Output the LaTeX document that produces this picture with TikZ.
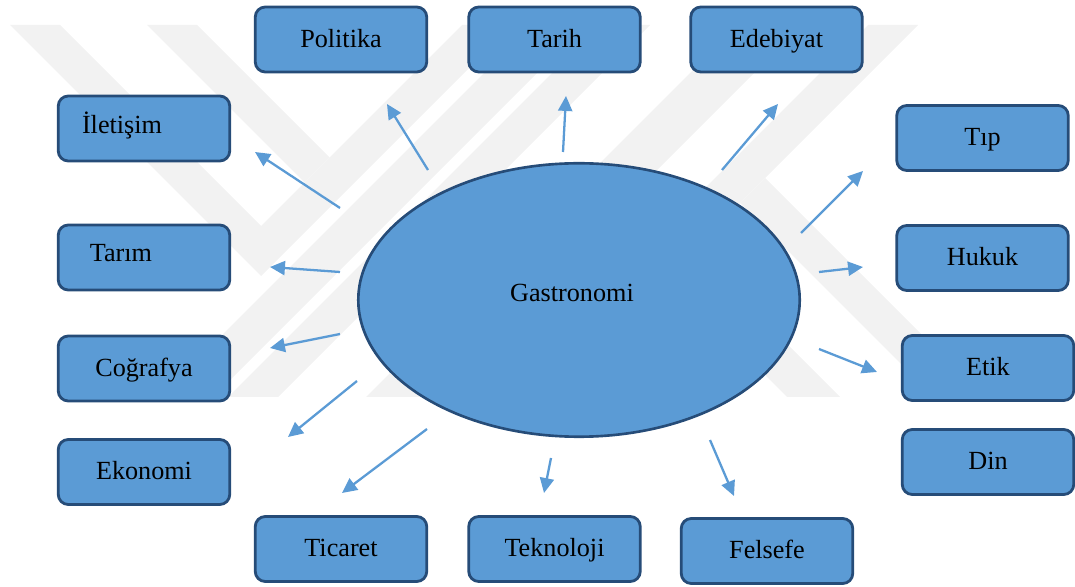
\documentclass[tikz,border=0pt]{standalone}
\usepackage{fontspec}
\setmainfont{Liberation Serif}
\usetikzlibrary{shapes.geometric,arrows.meta}
\definecolor{boxfill}{RGB}{91,155,213}
\definecolor{boxline}{RGB}{38,76,120}
\definecolor{arrowc}{RGB}{91,155,213}
\definecolor{wm}{RGB}{242,242,242}
\begin{document}
\begin{tikzpicture}[x=0.02cm,y=-0.02cm,
  txt/.style={font=\fontsize{14.9}{17}\selectfont,text height=12pt,text depth=3pt},
  box/.style={txt,draw=boxline,fill=boxfill,line width=1.6pt,rounded corners=0.2cm,
    minimum width=3.43cm,minimum height=1.30cm,inner sep=0pt},
  lbl/.style={txt,inner sep=0pt},
  oval/.style={ellipse,draw=boxline,fill=boxfill,line width=1.5pt,
    minimum width=8.83cm,minimum height=5.47cm,inner sep=0pt},
  arr/.style={draw=arrowc,line width=1.3pt,-{Triangle[length=8.5pt,width=8pt]}},
  wmark/.style={fill=wm,draw=none}]
\useasboundingbox (0,0) rectangle (1075,587);
% faint watermark
\fill[wmark] (10,25) -- (60,25) -- (261,226) -- (462,25) -- (512,25) -- (261,276) -- cycle;
\fill[wmark] (147,25) -- (197,25) -- (329.5,157.5) -- (304.5,182.5) -- cycle;
\fill[wmark] (532,25) -- (585,25) -- (213,397) -- (160,397) -- cycle;
\fill[wmark] (600,25) -- (650,25) -- (278,397) -- (228,397) -- cycle;
\fill[wmark] (738,25) -- (802,25) -- (430,397) -- (366,397) -- cycle;
\fill[wmark] (635,192) -- (840,397) -- (787,397) -- (608.5,218.5) -- cycle;
\fill[wmark] (868,25) -- (918,25) -- (546,397) -- (496,397) -- cycle;
\fill[wmark] (765,178) -- (984,397) -- (934,397) -- (740,203) -- cycle;
% central ellipse
\node[oval] (gastro) at (579,300) {};
\node[lbl] (gastroT) at (572,294) {Gastronomi};
% boxes
\node[box] (iletisim) at (144,128.5) {};
\node[lbl] (iletisimT) at (122,126) {İletişim};
\node[box] (tarim) at (144,257.5) {};
\node[lbl] (tarimT) at (121,253.5) {Tarım};
\node[box] (cografya) at (144,368.5) {Coğrafya};
\node[box] (ekonomi) at (144,472) {Ekonomi};
\node[box] (politika) at (341,39.5) {Politika};
\node[box] (tarih) at (554.5,39.5) {Tarih};
\node[box] (edebiyat) at (776.5,39.5) {Edebiyat};
\node[box] (tip) at (982.5,138) {Tıp};
\node[box] (hukuk) at (982.5,258) {Hukuk};
\node[box] (etik) at (988,368) {Etik};
\node[box] (din) at (988,462) {Din};
\node[box] (ticaret) at (341,549) {Ticaret};
\node[box] (teknoloji) at (554.5,549) {Teknoloji};
\node[box] (felsefe) at (767,551) {Felsefe};
% arrow end points
\coordinate (a1s) at (340,208); \coordinate (a1e) at (255,152);
\coordinate (a2s) at (340,272); \coordinate (a2e) at (270,267);
\coordinate (a3s) at (340,334); \coordinate (a3e) at (270,348);
\coordinate (a4s) at (357,381); \coordinate (a4e) at (288,437);
\coordinate (a5s) at (428,170); \coordinate (a5e) at (387,104);
\coordinate (a6s) at (563,152); \coordinate (a6e) at (566,96);
\coordinate (a7s) at (722,170); \coordinate (a7e) at (778,104);
\coordinate (a8s) at (801,233); \coordinate (a8e) at (863,171);
\coordinate (a9s) at (819,272); \coordinate (a9e) at (863,267);
\coordinate (a10s) at (819,349); \coordinate (a10e) at (877,372);
\coordinate (a11s) at (427,429); \coordinate (a11e) at (342,493);
\coordinate (a12s) at (551,458); \coordinate (a12e) at (544,493);
\coordinate (a13s) at (710,440); \coordinate (a13e) at (734,496);
\foreach \i in {1,...,13} {\draw[arr] (a\i s) -- (a\i e);}
\end{tikzpicture}
\end{document}
